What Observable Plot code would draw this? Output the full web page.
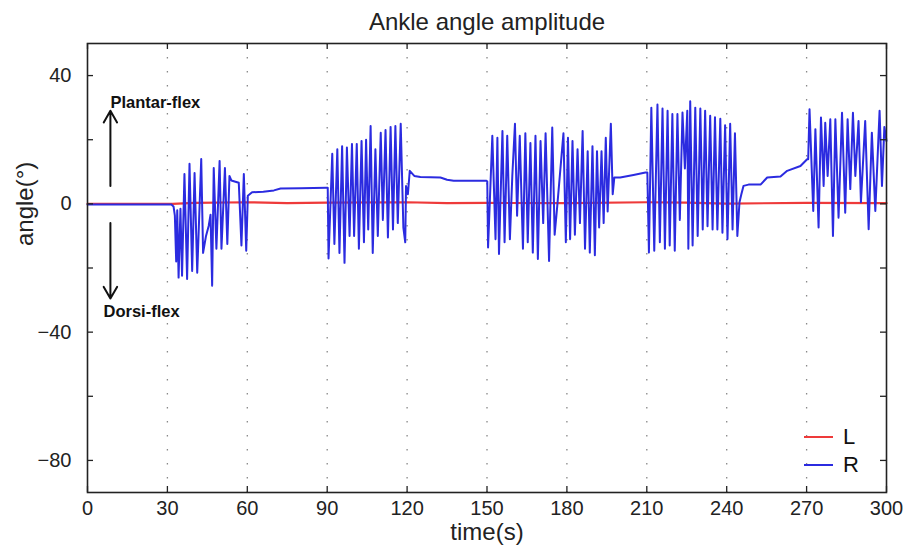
<!DOCTYPE html>
<html>
<head>
<meta charset="utf-8">
<script src="https://cdn.jsdelivr.net/npm/d3@7"></script>
<script src="https://cdn.jsdelivr.net/npm/@observablehq/plot@0.6"></script>
<style>
  body { margin: 0; background: #fff; }
  #wrap { position: relative; width: 917px; height: 554px; background: #fff; }
  .leg { position: absolute; display: flex; align-items: center; font-size: 22px; color: #111; }
  .leg span.line { display: inline-block; width: 29px; height: 0; border-top: 2px solid; margin-right: 10px; }
</style>
</head>
<body>
<div id="wrap"></div>
<script>
// ---------- data ----------
const xTicks = [0, 30, 60, 90, 120, 150, 180, 210, 240, 270, 300];
const gridTimes = [30, 60, 90, 120, 150, 180, 210, 240, 270];
const yTickLabels = [40, 0, -40, -80];
const yTickMarks = [40, 20, 0, -20, -40, -60, -80];

// Left ankle (L) : [time s, angle deg]
const seriesL = [
  [0, 0], [32, 0], [40, 0.3], [60, 0.5], [75, 0.2], [90, 0.4], [120, 0.5], [135, 0.2],
  [150, 0.3], [180, 0.2], [210, 0.5], [225, 0.4], [240, 0.1], [270, 0.3], [300, 0.2]
];

// Right ankle (R) : [time s, angle deg]
const seriesR = [
  [0, -0.2], [31.5, -0.2], [32.3, -0.8],
  [32.8, -3.7], [33.3, -18], [33.7, -2], [34.2, -23], [34.9, -1.5], [35.5, -22.4], [36.4, 9.3],
  [37.4, -23.4], [38.3, 12.5], [39.3, -20.9], [40.2, 9.6], [41.2, -21.5], [42.7, 14], [43.4, -15.3],
  [44.5, -10], [45.5, -6.9], [46.2, -3.4], [46.8, -25.5], [47.4, 11.2], [48.4, -14], [49.6, 13.4],
  [50.3, -14], [51.6, 11.2], [52.5, -12.5], [53.3, 8.7], [54, 7.3], [56.8, 6.6], [57.8, -13],
  [58.7, 9.3], [59.6, -14.6], [60.2, 2.5], [61.8, 3.6], [66, 3.8], [70, 4.2], [72.5, 4.8], [80, 4.9], [89.8, 5],
  [90.2, 5], [90.5, -17], [91.9, 15.6], [92.7, -12.5], [93.8, 17], [94.6, -15.3], [95.6, 18], [96.5, -18.4],
  [97.4, 17.6], [98.4, -10], [99.3, 18.7], [100.1, -10], [101.1, 18.7], [101.9, -14], [102.9, 19.6],
  [103.8, -12], [104.6, 20], [105.4, -8], [106.3, 24.3], [107.1, -15.3], [108.1, 17], [109, -10],
  [110.1, 22.2], [110.9, -5], [111.9, 23], [112.8, -10.5], [113.8, 24], [114.7, -8], [115.6, 24.3],
  [116.5, -6], [117.6, 25], [118.6, -7.4], [119.3, -12], [119.6, 5.6], [120.3, 3], [121, 10.3],
  [122.7, 8.7], [125, 8.4], [132.5, 8.2], [135, 7.5], [137.5, 7.2], [149.8, 7.2],
  [150.1, 7], [150.4, -13.6], [152, 21.2], [153.2, -11], [153.9, 20.6], [154.5, -15.6], [155.8, 22.7],
  [156.6, -12], [157.6, 21.2], [158.6, -11], [159.5, 8.7], [160.5, 25], [161.3, -3.7], [162.3, 21.2],
  [163.5, -14], [164.4, 22], [165.3, -12], [166.3, 19], [167.2, -15.2], [168.2, 21.2], [169.1, -17.2],
  [170.1, 19.6], [171.1, -6], [172, 22], [173.3, -17.8], [174.5, 23.8], [175.4, -9.6], [176.4, -0.5],
  [178.7, 22], [179.6, -12], [180.4, 20.6], [181.2, -11], [182.1, 19.6], [183, -9.6], [184, 17],
  [184.9, -6], [185.9, 22.7], [186.8, -14], [187.8, 16.4], [188.6, -15.2], [189.6, 18], [190.5, -16],
  [191.3, 16.4], [192.1, -7.4], [193, 16.4], [193.8, -6], [194.6, 20.6], [195.3, -2.4], [196.5, 25],
  [197.2, 3], [197.8, 8.2], [200, 8.2], [205, 9], [209.5, 9.8],
  [210.2, 9.8], [210.8, -15.2], [211.7, 30], [212.8, -14.6], [214, 31], [214.9, -12], [215.9, 29.7],
  [216.8, -14], [217.8, 29], [218.6, -13], [219.6, 28], [220.5, -14.6], [221.5, 28], [222.4, -5],
  [223.4, 28.5], [224.3, 11], [225.2, 29], [225.6, -14], [226.3, 32], [227.2, -13], [228.2, 30],
  [229.1, -10], [230.1, 29.7], [231, -8], [231.9, 29], [232.8, -7], [233.8, 27.5], [234.7, -8],
  [235.6, 27], [236.5, -8], [237.6, 26.5], [238.4, -9], [239.4, 24.5], [240.3, -11], [241.3, 25],
  [242.2, -8], [243.1, 22], [244, -10], [244.8, 0.5], [245.5, 3], [246.3, 5.6], [248.2, 6],
  [252.7, 6], [255.2, 8.2], [260.2, 8.5], [262.7, 10.3], [267.7, 11.8], [270.2, 13.9],
  [270.6, 13.9], [271.1, 29.5], [272.5, -2.2], [273.3, 23.3], [274.5, -7.4], [275.4, 26.9], [276.4, 5.6],
  [277, 25.3], [277.9, 8.7], [278.9, 26.4], [279.9, -10], [280.8, 26.4], [282, -4.3], [283.3, 28.4],
  [284.5, -2.8], [285.4, 26.4], [286.4, 4.6], [287.4, 28.4], [288.3, 8.7], [289.5, 25.8], [290.4, 0.5],
  [292, 25.8], [293.3, -7.9], [294.5, 22.2], [295.8, -2.2], [297.4, 29], [298.3, 5.6], [299.2, 24], [300, 19.6]
];

const legendLabels = ["L", "R"];
const legendColors = ["#ee3a3a", "#2b2be0"];

const annotLabels = [
  { text: "Plantar-flex", t: 8.6, v: 31.5 },
  { text: "Dorsi-flex", t: 6.0, v: -33.6 }
];
const annotArrows = [
  { t1: 8.6, v1: 5.6, t2: 8.6, v2: 29 },
  { t1: 8.6, v1: -6, t2: 8.6, v2: -29.5 }
];

// ---------- chart ----------
const W = 917, H = 554, ML = 87, MR = 31, MT = 43, MB = 62;
const innerW = W - ML - MR, innerH = H - MT - MB;
const font = "'Liberation Sans Narrow','Arial Narrow','Liberation Sans',sans-serif";
const ink = "#222";

const chart = Plot.plot({
  width: W, height: H,
  marginLeft: ML, marginRight: MR, marginTop: MT, marginBottom: MB,
  x: { domain: [0, 300], axis: null },
  y: { domain: [-90, 50], axis: null },
  style: { fontFamily: font, background: "#fff", color: ink },
  marks: [
    Plot.ruleX(gridTimes, { x: d => d, stroke: "#888", strokeWidth: 1.3, strokeDasharray: "1.5,12.5" }),
    Plot.line(seriesL, { x: d => d[0], y: d => d[1], stroke: legendColors[0], strokeWidth: 2.2 }),
    Plot.line(seriesR, { x: d => d[0], y: d => d[1], stroke: legendColors[1], strokeWidth: 2 }),
    Plot.tickX(xTicks, { x: d => d, insetTop: innerH - 6, stroke: ink, strokeWidth: 1.3 }),
    Plot.tickX(xTicks, { x: d => d, insetBottom: innerH - 6, stroke: ink, strokeWidth: 1.3 }),
    Plot.tickY(yTickMarks, { y: d => d, insetRight: innerW - 6, stroke: ink, strokeWidth: 1.3 }),
    Plot.tickY(yTickMarks, { y: d => d, insetLeft: innerW - 6, stroke: ink, strokeWidth: 1.3 }),
    Plot.frame({ stroke: ink, strokeWidth: 1.6 }),
    Plot.axisX(xTicks, { tickSize: 0, tickPadding: 8, fontSize: 20, label: null, tickFormat: d => d }),
    Plot.axisY(yTickLabels, { tickSize: 0, tickPadding: 16, fontSize: 20, label: null }),
    Plot.text(["Ankle angle amplitude"], { frameAnchor: "top", lineAnchor: "middle", dy: -21, fontSize: 24, fill: ink }),
    Plot.text(["time(s)"], { frameAnchor: "bottom", lineAnchor: "middle", dy: 40, fontSize: 24, fill: ink }),
    Plot.text(["angle(°)"], { frameAnchor: "left", lineAnchor: "middle", dx: -62, dy: -22, rotate: -90, fontSize: 24, fill: ink }),
    Plot.arrow(annotArrows, { x1: "t1", y1: "v1", x2: "t2", y2: "v2", stroke: "#111", strokeWidth: 2, headLength: 10 }),
    Plot.text(annotLabels, { x: "t", y: "v", text: "text", textAnchor: "start", fontWeight: "bold",
      fontSize: 16.5, fontFamily: "'Liberation Sans',sans-serif", fill: "#111" })
  ]
});

const wrap = document.getElementById("wrap");
wrap.appendChild(chart);

// legend (inside plot, lower right)
legendLabels.forEach((lab, i) => {
  const d = document.createElement("div");
  d.className = "leg";
  d.style.left = "804px";
  d.style.top = (424 + i * 28) + "px";
  d.style.fontFamily = font;
  const ln = document.createElement("span");
  ln.className = "line";
  ln.style.borderTopColor = legendColors[i];
  d.appendChild(ln);
  d.appendChild(document.createTextNode(lab));
  wrap.appendChild(d);
});
</script>
</body>
</html>
